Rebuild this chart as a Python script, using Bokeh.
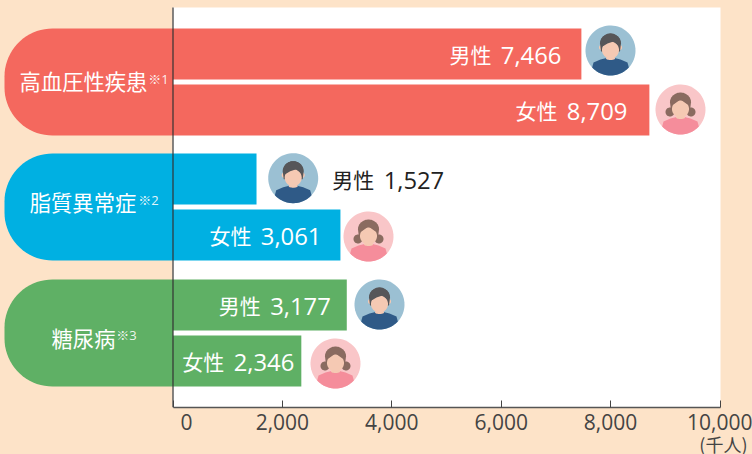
import numpy as np
from bokeh.core.properties import value
from bokeh.embed import file_html
from bokeh.models import LinearAxis, Range1d, FixedTicker, NumeralTickFormatter, Title
from bokeh.plotting import figure
from bokeh.resources import INLINE

categories = ["高血圧性疾患", "脂質異常症", "糖尿病"]
notes = ["※1", "※2", "※3"]
sexes = ["男性", "女性"]
male = [7466, 1527, 3177]
female = [8709, 3061, 2346]
ticks = [0, 2000, 4000, 6000, 8000, 10000]
unit_label = "(千人)"
colors = ["#F4685E", "#00B0E2", "#5FB065"]

PEACH = "#FDE3C8"
FONT = "Noto Sans CJK JP"
NUM = "Open Sans"
K = 0.0547
X0 = 172.5
W, H, AXIS_Y = 752, 454, 407


def dx(px):
    return (np.asarray(px, dtype=float) - X0) / K


p = figure(width=W, height=H, frame_width=W, frame_height=AXIS_Y,
           x_range=Range1d(float(dx(0)), float(dx(W))), y_range=Range1d(AXIS_Y, 0),
           x_axis_location=None, y_axis_location=None, toolbar_location=None,
           output_backend="svg", min_border_left=0, min_border_right=0,
           min_border_top=0, min_border_bottom=47)
p.grid.visible = False
p.outline_line_color = None
p.background_fill_color = PEACH
p.border_fill_color = PEACH

p.quad(left=[float(dx(172))], right=[float(dx(720))], top=[7], bottom=[AXIS_Y],
       fill_color="white", line_color=None)

# pills
PILL_TOPS = [28, 153, 279]
PILL_H = 107
R = 48
for top, c in zip(PILL_TOPS, colors):
    cy_up = top + R
    cy_lo = top + PILL_H - R
    ang1 = np.linspace(-np.pi / 2, -np.pi, 20)
    ang2 = np.linspace(np.pi, np.pi / 2, 20)
    xs = np.r_[X0, 4 + R + R * np.cos(ang1), 4 + R + R * np.cos(ang2), X0]
    ys = np.r_[top, cy_up + R * np.sin(ang1), cy_lo + R * np.sin(ang2), top + PILL_H]
    p.patch(dx(xs), ys, fill_color=c, line_color=None)

# bars
rows = []
for g in range(3):
    for s, vals in enumerate([male, female]):
        rows.append((g, s, vals[g]))
bar_h = 51
centers = [PILL_TOPS[g] + 25.5 + 56 * s for g, s, _ in rows]
vals = [v for _, _, v in rows]
p.hbar(y=centers, left=0, right=vals, height=bar_h,
       fill_color=[colors[g] for g, _, _ in rows], line_color=None)

# avatars
CX = [610, 680, 292.7, 368, 379, 335]
CY = [50, 109, 177.7, 236, 304, 363]


def avatar(cx, cy, female_fig):
    t = np.linspace(0, 2 * np.pi, 70)

    def blob(ox, oy, rx, ry, color):
        p.patch(dx(cx + ox + rx * np.cos(t)), cy + oy + ry * np.sin(t), fill_color=color, line_color=None)

    bg = "#F9C6C8" if female_fig else "#9BC0D3"
    shirt = "#F58D9B" if female_fig else "#2F5A87"
    hair = "#8A6B60" if female_fig else "#565659"
    skin = "#F5C9B3"
    blob(0, 0, 25, 25, bg)
    ang = np.linspace(np.arcsin(17 / 25), np.pi - np.arcsin(17 / 25), 30)
    sx = np.r_[25 * np.cos(ang), -17, -10, -4, 4, 10, 17]
    sy = np.r_[25 * np.sin(ang), 12, 9, 7.5, 7.5, 9, 12]
    p.patch(dx(cx + sx), cy + sy, fill_color=shirt, line_color=None)
    if female_fig:
        blob(-10.5, 2.5, 4.5, 4.5, hair)
        blob(10.5, 2.5, 4.5, 4.5, hair)
    p.quad(left=[float(dx(cx - 4))], right=[float(dx(cx + 4))], top=[cy], bottom=[cy + 8],
           fill_color=skin, line_color=None)
    blob(0, 8, 4.5, 1.5, skin)
    if not female_fig:
        blob(-9.5, -3, 2, 2.5, skin)
        blob(9.5, -3, 2, 2.5, skin)
    a2 = np.linspace(np.pi, 2 * np.pi, 30)
    hx = np.r_[10.5 * np.cos(a2), 9.5, -9.5]
    hy = np.r_[-7 + 10 * np.sin(a2), 1, 1]
    p.patch(dx(cx + hx), cy + hy, fill_color=hair, line_color=None)
    blob(0, -0.5, 8.5, 8.5, skin)
    if female_fig:
        fx = np.r_[10 * np.cos(a2), 7, 0, -7]
        fy = np.r_[-7 + 9 * np.sin(a2), -5, -10, -5]
    else:
        fx = np.r_[10 * np.cos(a2), 8, 3, -3, -8]
        fy = np.r_[-7 + 10 * np.sin(a2), -5, -9, -7, -4]
    p.patch(dx(cx + fx), cy + fy, fill_color=hair, line_color=None)


for (g, s, v), cx, cy in zip(rows, CX, CY):
    avatar(cx, cy, s == 1)

# value labels: sex label and number
sex_txt = [sexes[s] for _, s, _ in rows]
num_txt = [f"{v:,}" for v in vals]
offs = [-20, -22, 187.7, -19, -16, -7]
cols = ["#222222" if v < 2000 else "white" for v in vals]
p.text(x=vals, y=[c + 1.0 for c in centers], text=num_txt, x_offset=offs, text_align="right",
       text_baseline="middle", text_color=cols, text_font=value(NUM), text_font_size="23.8px")
p.text(x=vals, y=[c + 0.0 for c in centers], text=sex_txt, x_offset=[o - 70 for o in offs], text_align="right",
       text_baseline="middle", text_color=cols, text_font=value(FONT), text_font_size="21px")

# category labels
LAB_X = [83, 82.5, 83]
LAB_Y = [80, 201, 337]
NOTE_X = [158, 148, 126]
NOTE_Y = [78, 199, 334]
p.text(x=dx(LAB_X), y=LAB_Y, text=categories, text_align="center", text_baseline="middle",
       text_color="white", text_font=value(FONT), text_font_size="21.3px")
p.text(x=dx(NOTE_X), y=NOTE_Y, text=notes, text_align="center", text_baseline="middle",
       text_color="white", text_alpha=0.9, text_font=value(NUM + ", " + FONT), text_font_size="13px")

# vertical baseline
p.segment(x0=[0], x1=[0], y0=[7], y1=[AXIS_Y], line_color="#333333", line_width=1.2)

axis = LinearAxis(ticker=FixedTicker(ticks=ticks), bounds=(0, ticks[-1]),
                  formatter=NumeralTickFormatter(format="0,0"))
axis.major_label_overrides = {0: "\u00a0" * 5 + "0"}
axis.axis_line_color = "#555555"
axis.axis_line_width = 1.5
axis.major_tick_line_color = "#444444"
axis.major_tick_in = 7
axis.major_tick_out = 0
axis.minor_tick_line_color = None
axis.major_label_standoff = 0
axis.major_label_text_font = NUM
axis.major_label_text_font_size = "21px"
axis.major_label_text_color = "#444444"
p.add_layout(axis, "below")

p.add_layout(Title(text=unit_label, align="right", offset=5, standoff=-19, text_font=FONT,
                   text_font_style="normal", text_font_size="18px", text_color="#444444"), "below")

template = """{% block preamble %}<style>html,body{margin:0;padding:0;background:#FDE3C8;overflow:hidden}</style>{% endblock %}
"""
open("out.html", "w").write(file_html(p, INLINE, template=template))
